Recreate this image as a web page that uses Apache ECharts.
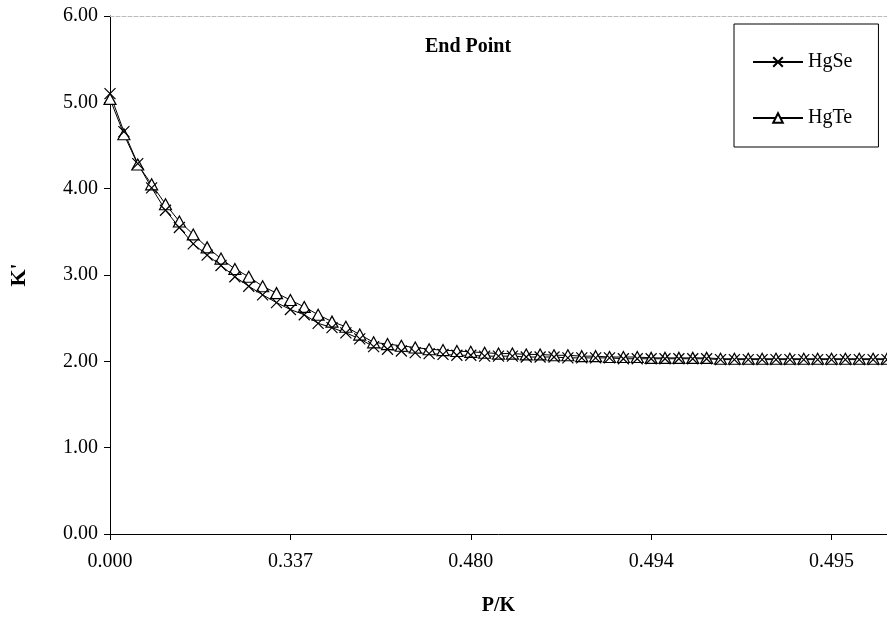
<!DOCTYPE html>
<html><head><meta charset="utf-8">
<script src="https://cdn.jsdelivr.net/npm/echarts@6/dist/echarts.min.js"></script>
<style>html,body{margin:0;padding:0;background:#fff}#c{width:887px;height:621px}</style>
</head><body><div id="c"></div>
<script>
// P/K category values (only every 13th is labelled)
var pk = [
  0.0000,0.0320,0.0620,0.0900,0.1170,0.1430,0.1670,0.1900,0.2120,0.2330,0.2610,0.2880,0.3130,
  0.3370,0.3550,0.3720,0.3880,0.4030,0.4170,0.4290,0.4400,0.4500,0.4590,0.4660,0.4720,0.4770,
  0.4800,0.4830,0.4850,0.4870,0.4880,0.4890,0.4900,0.4910,0.4915,0.4920,0.4925,0.4930,0.4935,
  0.4940,0.4942,0.4944,0.4946,0.4947,0.4948,0.4949,0.4950,0.4950,0.4950,0.4950,0.4950,0.4950,
  0.4950,0.4951,0.4951,0.4952,0.4952
];
var hgse = [
  5.10,4.66,4.29,4.01,3.75,3.55,3.36,3.23,3.11,2.98,2.87,2.77,2.68,
  2.60,2.54,2.44,2.39,2.33,2.26,2.17,2.14,2.12,2.10,2.09,2.08,2.07,
  2.07,2.06,2.06,2.06,2.05,2.05,2.05,2.04,2.04,2.04,2.04,2.03,2.03,
  2.03,2.03,2.03,2.03,2.03,2.02,2.02,2.02,2.02,2.02,2.02,2.02,2.02,
  2.02,2.02,2.02,2.02,2.02
];
var hgte = [
  5.04,4.63,4.28,4.05,3.82,3.62,3.47,3.32,3.19,3.07,2.98,2.87,2.79,
  2.71,2.63,2.54,2.46,2.40,2.31,2.22,2.20,2.18,2.16,2.14,2.13,2.12,
  2.11,2.10,2.09,2.09,2.08,2.08,2.07,2.07,2.06,2.06,2.05,2.05,2.05,
  2.04,2.04,2.04,2.04,2.04,2.03,2.03,2.03,2.03,2.03,2.03,2.03,2.03,
  2.03,2.03,2.03,2.03,2.03
];
var yTicks = [0,1,2,3,4,5,6];
var seriesNames = ['HgSe','HgTe'];

var FONT = 'Liberation Serif';
var chart = echarts.init(document.getElementById('c'), null, {renderer:'canvas'});
var xPath = 'path://M0,0L10,10M10,0L0,10';
chart.setOption({
  animation:false,
  backgroundColor:'#fff',
  title:{text:'End Point', left:420, top:32,
    textStyle:{fontFamily:FONT, fontWeight:'bold', fontSize:20, color:'#000'}},
  legend:{
    data:[{name:seriesNames[0]},{name:seriesNames[1]}],
    orient:'vertical', left:734, top:24,
    padding:[28,26,19,18], itemGap:36, itemWidth:50, itemHeight:12,
    borderColor:'#000', borderWidth:1, backgroundColor:'#fff',
    textStyle:{fontFamily:FONT, fontSize:20, color:'#000'}
  },
  grid:{left:109, top:16, right:-4, bottom:81, containLabel:false},
  xAxis:[{
    type:'category', data:pk, boundaryGap:false,
    axisLine:{lineStyle:{color:'#000', width:1}},
    axisTick:{show:true, interval:12, length:6, lineStyle:{color:'#000'}},
    axisLabel:{interval:12, margin:18, fontFamily:FONT, fontSize:20, color:'#000',
      formatter:function(v){return Number(v).toFixed(3);}},
    splitLine:{show:false},
    name:'P/K', nameLocation:'middle', nameGap:62,
    nameTextStyle:{fontFamily:FONT, fontWeight:'bold', fontSize:20, color:'#000'}
  },{
    type:'category', data:pk, position:'top', boundaryGap:false,
    axisLine:{lineStyle:{color:'#bbb', type:'dashed', width:1}},
    axisTick:{show:false}, axisLabel:{show:false}
  }],
  yAxis:{
    type:'value', min:yTicks[0], max:yTicks[yTicks.length-1], interval:1,
    axisLine:{show:true, lineStyle:{color:'#000', width:1}},
    axisTick:{show:true, length:6, lineStyle:{color:'#000'}},
    axisLabel:{margin:12, fontFamily:FONT, fontSize:20, color:'#000',
      formatter:function(v){return v.toFixed(2);}},
    splitLine:{show:false},
    name:"K'", nameLocation:'middle', nameGap:80,
    nameTextStyle:{fontFamily:FONT, fontWeight:'bold', fontSize:22, color:'#000'}
  },
  series:[
    {name:seriesNames[1], type:'line', data:hgte, symbol:'triangle', symbolSize:[12,11],
      showAllSymbol:true,
      lineStyle:{color:'#000', width:1},
      itemStyle:{color:'#fff', borderColor:'#000', borderWidth:1.2}},
    {name:seriesNames[0], type:'line', data:hgse, symbol:xPath, symbolSize:11,
      showAllSymbol:true,
      lineStyle:{color:'#000', width:1},
      itemStyle:{color:'#000', borderColor:'#000', borderWidth:1.2}}
  ]
});
</script></body></html>
